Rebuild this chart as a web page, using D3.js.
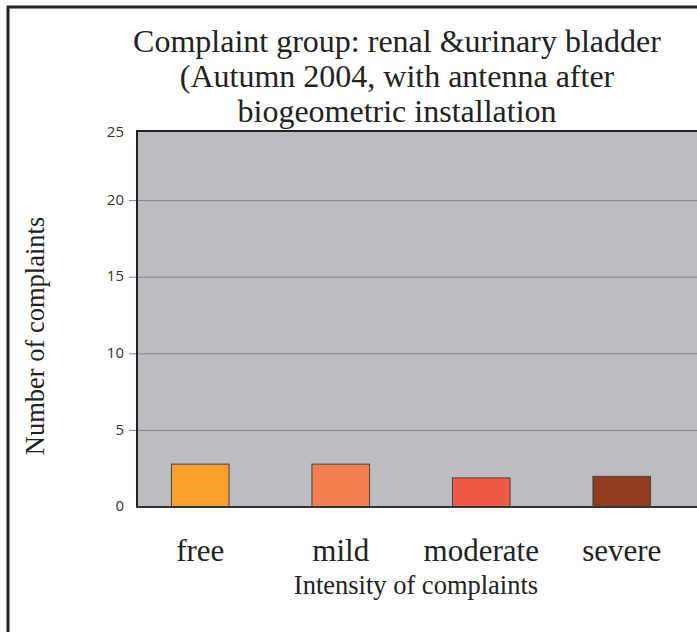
<!DOCTYPE html>
<html>
<head>
  <meta charset="UTF-8">
  <script src="https://d3js.org/d3.v7.js"></script>
  <style>
    body { margin: 0; background: #fff; }
  </style>
</head>
<body>
  <div id="chart"></div>
  <script>
    // data
    const categories = ["free", "mild", "moderate", "severe"];
    const complaints = [2.8, 2.8, 1.9, 2.0];
    const barColors = ["#f9a12a", "#f37f50", "#f15a47", "#923d1f"];
    const yTicks = [0, 5, 10, 15, 20, 25];
    const titleLines = ["Complaint group: renal &urinary bladder", "(Autumn 2004, with antenna after", "biogeometric installation"];

    const W = 697, H = 632;
    const margin = { top: 131, right: 0, bottom: 125, left: 137 };
    const plotRight = 697;
    const serif = '"Liberation Serif", "Times New Roman", serif';

    const svg = d3.select('#chart').append('svg')
        .attr('width', W).attr('height', H);

    // outer frame
    svg.append('rect')
        .attr('x', 8).attr('y', 7)
        .attr('width', W + 20).attr('height', H + 20)
        .attr('fill', 'none').attr('stroke', '#222').attr('stroke-width', 3);

    // scales
    const y = d3.scaleLinear().domain([0, 25]).range([507, 124]);
    const x = d3.scaleBand().domain(categories).range([130, 692]).paddingInner(0.59).paddingOuter(0.295);

    // plot background
    svg.append('rect')
        .attr('x', margin.left).attr('y', margin.top)
        .attr('width', plotRight - margin.left + 5).attr('height', y(0) - margin.top)
        .attr('fill', '#bcbdc1');

    // gridlines + tick marks
    svg.append('g').selectAll('line')
      .data(yTicks.filter(d => d > 0 && d < 25))
      .join('line')
        .attr('x1', 129).attr('x2', plotRight)
        .attr('y1', d => y(d)).attr('y2', d => y(d))
        .attr('stroke', '#858585').attr('stroke-width', 1);

    // tick labels
    svg.append('g').selectAll('text')
      .data(yTicks)
      .join('text')
        .attr('x', 124)
        .attr('y', d => d === 25 ? margin.top + 1 : y(d) - 1)
        .attr('dy', '0.35em')
        .attr('text-anchor', 'end')
        .attr('font-family', 'Open Sans, sans-serif')
        .attr('font-size', 15)
        .attr('fill', '#333')
        .text(d => d);

    // plot border (left, top)
    svg.append('path')
        .attr('d', `M${margin.left},${y(0)}V${margin.top}H${plotRight + 5}`)
        .attr('fill', 'none').attr('stroke', '#222').attr('stroke-width', 2);

    // bars
    svg.append('g').selectAll('rect')
      .data(categories)
      .join('rect')
        .attr('x', d => x(d))
        .attr('width', x.bandwidth())
        .attr('y', (d, i) => y(complaints[i]))
        .attr('height', (d, i) => y(0) - y(complaints[i]))
        .attr('fill', (d, i) => barColors[i])
        .attr('stroke', '#444').attr('stroke-width', 1);

    // x axis line
    svg.append('line')
        .attr('x1', margin.left - 1).attr('x2', plotRight)
        .attr('y1', y(0)).attr('y2', y(0))
        .attr('stroke', '#333').attr('stroke-width', 2);

    // category labels
    svg.append('g').selectAll('text')
      .data(categories)
      .join('text')
        .attr('x', d => x(d) + x.bandwidth() / 2)
        .attr('y', 561)
        .attr('text-anchor', 'middle')
        .attr('font-family', serif)
        .attr('font-size', 31)
        .attr('fill', '#222')
        .text(d => d);

    // axis titles
    svg.append('text')
        .attr('x', 416).attr('y', 594)
        .attr('text-anchor', 'middle')
        .attr('font-family', serif)
        .attr('font-size', 26.5)
        .attr('fill', '#222')
        .text('Intensity of complaints');

    svg.append('text')
        .attr('transform', 'translate(44,336) rotate(-90)')
        .attr('text-anchor', 'middle')
        .attr('font-family', serif)
        .attr('font-size', 26.5)
        .attr('fill', '#222')
        .text('Number of complaints');

    // title
    svg.append('g').selectAll('text')
      .data(titleLines)
      .join('text')
        .attr('x', 397)
        .attr('y', (d, i) => 52 + i * 35)
        .attr('text-anchor', 'middle')
        .attr('font-family', serif)
        .attr('font-size', 32)
        .attr('fill', '#222')
        .text(d => d);
  </script>
</body>
</html>
